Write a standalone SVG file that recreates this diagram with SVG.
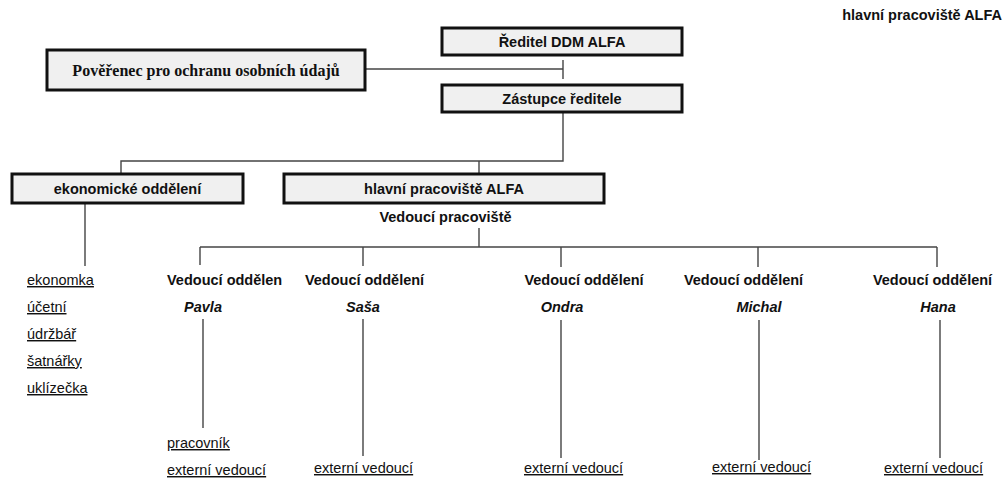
<svg xmlns="http://www.w3.org/2000/svg" width="1007" height="482" viewBox="0 0 1007 482">
<style>
.box{fill:#f0f0f0;stroke:#111;stroke-width:3}
.t{font-family:"Liberation Sans",Arial,sans-serif;font-size:14.5px;fill:#111}
.b{font-weight:bold}
.c{text-anchor:middle}
.i{font-style:italic}
.u{text-decoration:underline}
.serif{font-family:"Liberation Serif","Times New Roman",serif;font-size:16px;font-weight:bold;fill:#111}
.ln{stroke:#444;stroke-width:1.4;fill:none}
</style>
<rect width="1007" height="482" fill="#fff"/>
<text class="t b" x="1002" y="20" text-anchor="end">hlavní pracoviště ALFA</text>
<g id="connectors">
<polyline class="ln" points="365,69 563,69"/>
<line class="ln" x1="563" y1="60" x2="563" y2="79"/>
<polyline class="ln" points="563,112 563,161 121,161 121,174"/>
<line class="ln" x1="479" y1="161" x2="479" y2="174"/>
<line class="ln" x1="85" y1="203" x2="85" y2="266"/>
<line class="ln" x1="479" y1="228" x2="479" y2="247"/>
<line class="ln" x1="200" y1="247" x2="937" y2="247"/>
<line class="ln" x1="200" y1="247" x2="200" y2="265"/>
<line class="ln" x1="363" y1="247" x2="363" y2="266"/>
<line class="ln" x1="561" y1="247" x2="561" y2="267"/>
<line class="ln" x1="758" y1="247" x2="758" y2="267"/>
<line class="ln" x1="937" y1="247" x2="937" y2="267"/>
<line class="ln" x1="203" y1="319" x2="203" y2="428"/>
<line class="ln" x1="363" y1="319" x2="363" y2="456"/>
<line class="ln" x1="561" y1="320" x2="561" y2="458"/>
<line class="ln" x1="759" y1="320" x2="759" y2="460"/>
<line class="ln" x1="940" y1="320" x2="940" y2="458"/>
</g>
<g id="reditel">
<rect class="box" x="442" y="28" width="240" height="27"/>
<text class="t b c" x="562" y="46.5">Ředitel DDM ALFA</text>
</g>
<g id="poverenec">
<rect class="box" x="47" y="50" width="318" height="40"/>
<text class="serif" x="206" y="75.5" text-anchor="middle">Pověřenec pro ochranu osobních údajů</text>
</g>
<g id="zastupce">
<rect class="box" x="442" y="85" width="240" height="27"/>
<text class="t b c" x="562" y="103.5">Zástupce ředitele</text>
</g>
<g id="ekonomicke">
<rect class="box" x="12" y="174" width="231" height="29"/>
<text class="t b c" x="127.5" y="193.5">ekonomické oddělení</text>
</g>
<g id="ekonomicke-staff">
<text class="t u" x="27" y="285">ekonomka</text>
<text class="t u" x="27" y="312">účetní</text>
<text class="t u" x="27" y="339">údržbář</text>
<text class="t u" x="27" y="366">šatnářky</text>
<text class="t u" x="27" y="393">uklízečka</text>
</g>
<g id="hlavni">
<rect class="box" x="284" y="174" width="320" height="29"/>
<text class="t b c" x="444" y="193.5">hlavní pracoviště ALFA</text>
<text class="t b c" x="445.5" y="222">Vedoucí pracoviště</text>
</g>
<g id="pavla">
<text class="t b" x="167" y="285">Vedoucí oddělen</text>
<text class="t b i c" x="203" y="312">Pavla</text>
<text class="t u" x="167" y="448">pracovník</text>
<text class="t u" x="167" y="475">externí vedoucí</text>
</g>
<g id="sasa">
<text class="t b c" x="364.5" y="285">Vedoucí oddělení</text>
<text class="t b i c" x="363" y="312">Saša</text>
<text class="t u" x="314" y="473">externí vedoucí</text>
</g>
<g id="ondra">
<text class="t b c" x="584" y="285">Vedoucí oddělení</text>
<text class="t b i c" x="562" y="312">Ondra</text>
<text class="t u" x="524" y="473">externí vedoucí</text>
</g>
<g id="michal">
<text class="t b c" x="743.5" y="285">Vedoucí oddělení</text>
<text class="t b i c" x="759" y="312">Michal</text>
<text class="t u" x="712" y="472">externí vedoucí</text>
</g>
<g id="hana">
<text class="t b c" x="932.5" y="285">Vedoucí oddělení</text>
<text class="t b i c" x="938" y="312">Hana</text>
<text class="t u" x="884" y="473">externí vedoucí</text>
</g>
</svg>
